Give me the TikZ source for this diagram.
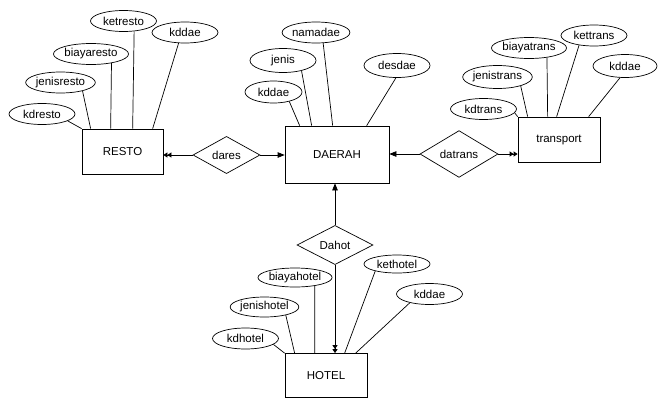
\documentclass[tikz,border=0pt]{standalone}
\usepackage{fontspec}
\setmainfont{Liberation Sans}
\usetikzlibrary{shapes.geometric,arrows.meta}

\begin{document}
\begin{tikzpicture}[x=1pt,y=-1pt,line width=0.7pt,font=\fontsize{11.5}{13}\selectfont]
%style for entity box
\tikzstyle{entity} = [rectangle, draw=black, fill=white, inner sep=0pt]

%style for relation diamond
\tikzstyle{relation} = [diamond, draw=black, fill=white, inner sep=0pt]

%style for attribute ellipse
\tikzstyle{attrib} = [ellipse, draw=black, fill=white, inner sep=0pt, minimum width=66pt, minimum height=21pt]

%arrow tips
\tikzstyle{onehead} = [-{Triangle[length=7pt,width=5.5pt]}]
\tikzstyle{twohead} = [-{Triangle[length=4pt,width=5pt]Triangle[length=4pt,width=5pt]}]

\useasboundingbox (0,0) rectangle (658,399);

%place entities
\node[entity, minimum width=81pt, minimum height=45pt](resto) at (122.5,151.5) {RESTO};
\node[entity, minimum width=104pt, minimum height=57pt](daerah) at (337,154.5) {DAERAH};
\node[entity, minimum width=82pt, minimum height=45pt](transport) at (559,139.5) {transport};
\node[entity, minimum width=82pt, minimum height=44pt](hotel) at (326,375.5) {HOTEL};

%place relations
\node[relation, minimum width=67pt, minimum height=34pt](dares) at (226.5,155) {dares};
\node[relation, minimum width=78pt, minimum height=38pt](datrans) at (459,154) {datrans};
\node[relation, minimum width=76pt, minimum height=36pt](dahot) at (335,245) {Dahot};

%attributes of resto
\node[attrib](ketresto) at (123.5,21) {ketresto};
\node[attrib](kddaeR) at (185,32.5) {kddae};
\node[attrib](biayaresto) at (91,54) {biayaresto};
\node[attrib](jenisresto) at (60.5,82.5) {jenisresto};
\node[attrib](kdresto) at (42,114) {kdresto};

%attributes of daerah
\node[attrib](namadae) at (316,32.5) {namadae};
\node[attrib, minimum height=24pt](jenis) at (283,60.5) {jenis};
\node[attrib, minimum width=57pt, minimum height=22pt](kddaeD) at (273.5,92) {kddae};
\node[attrib, minimum height=24pt](desdae) at (397,65.5) {desdae};

%attributes of transport
\node[attrib](biayatrans) at (529,48) {biayatrans};
\node[attrib](kettrans) at (594,35.5) {kettrans};
\node[attrib, minimum width=64pt, minimum height=23pt](kddaeT) at (625,66) {kddae};
\node[attrib, minimum height=23pt](jenistrans) at (497.5,77) {jenistrans};
\node[attrib](kdtrans) at (483.5,109) {kdtrans};

%attributes of hotel
\node[attrib, minimum height=18pt](kethotel) at (397,264) {kethotel};
\node[attrib](kddaeH) at (429.5,294) {kddae};
\node[attrib, minimum height=19pt](biayahotel) at (295,277.5) {biayahotel};
\node[attrib, minimum height=20pt](jenishotel) at (264.5,307) {jenishotel};
\node[attrib](kdhotel) at (245.5,338.5) {kdhotel};

%attribute lines of resto
\draw (kdresto.-15) -- (resto.north west);
\draw (jenisresto.-21) -- ([xshift=9pt]resto.north west);
\draw (biayaresto.-24) -- ([xshift=29pt]resto.north west);
\draw (ketresto.-44) -- ([xshift=51pt]resto.north west);
\draw (kddaeR.-121) -- ([xshift=71pt]resto.north west);

%attribute lines of daerah
\draw (kddaeD.-31) -- ([xshift=15pt]daerah.north west);
\draw (jenis.-29) -- ([xshift=27pt]daerah.north west);
\draw (namadae.-56) -- ([xshift=48pt]daerah.north west);
\draw (desdae.-95) -- ([xshift=82pt]daerah.north west);

%attribute lines of transport
\draw (kdtrans.-7) -- (transport.north west);
\draw (jenistrans.-21) -- ([xshift=10pt]transport.north west);
\draw (biayatrans.-28) -- ([xshift=30pt]transport.north west);
\draw (kettrans.-147) -- ([xshift=39pt]transport.north west);
\draw (kddaeT.-113) -- ([xshift=71pt]transport.north west);

%attribute lines of hotel
\draw (kdhotel.-12) -- (hotel.north west);
\draw (jenishotel.-21) -- ([xshift=10pt]hotel.north west);
\draw (biayahotel.-23) -- ([xshift=30pt]hotel.north west);
\draw (kethotel.-162) -- ([xshift=60pt]hotel.north west);
\draw (kddaeH.-156) -- ([xshift=71pt]hotel.north west);

%relation lines
\draw[twohead] (dares.west) -- (dares.west -| resto.east);
\draw[onehead] (dares.east) -- (dares.east -| daerah.west);
\draw[onehead] (datrans.west) -- (datrans.west -| daerah.east);
\draw[twohead] (datrans.east) -- (datrans.east -| transport.west);
\draw[onehead] (dahot.north) -- (dahot.north |- daerah.south);
\draw[twohead] (dahot.south) -- (dahot.south |- hotel.north);
\end{tikzpicture}
\end{document}
